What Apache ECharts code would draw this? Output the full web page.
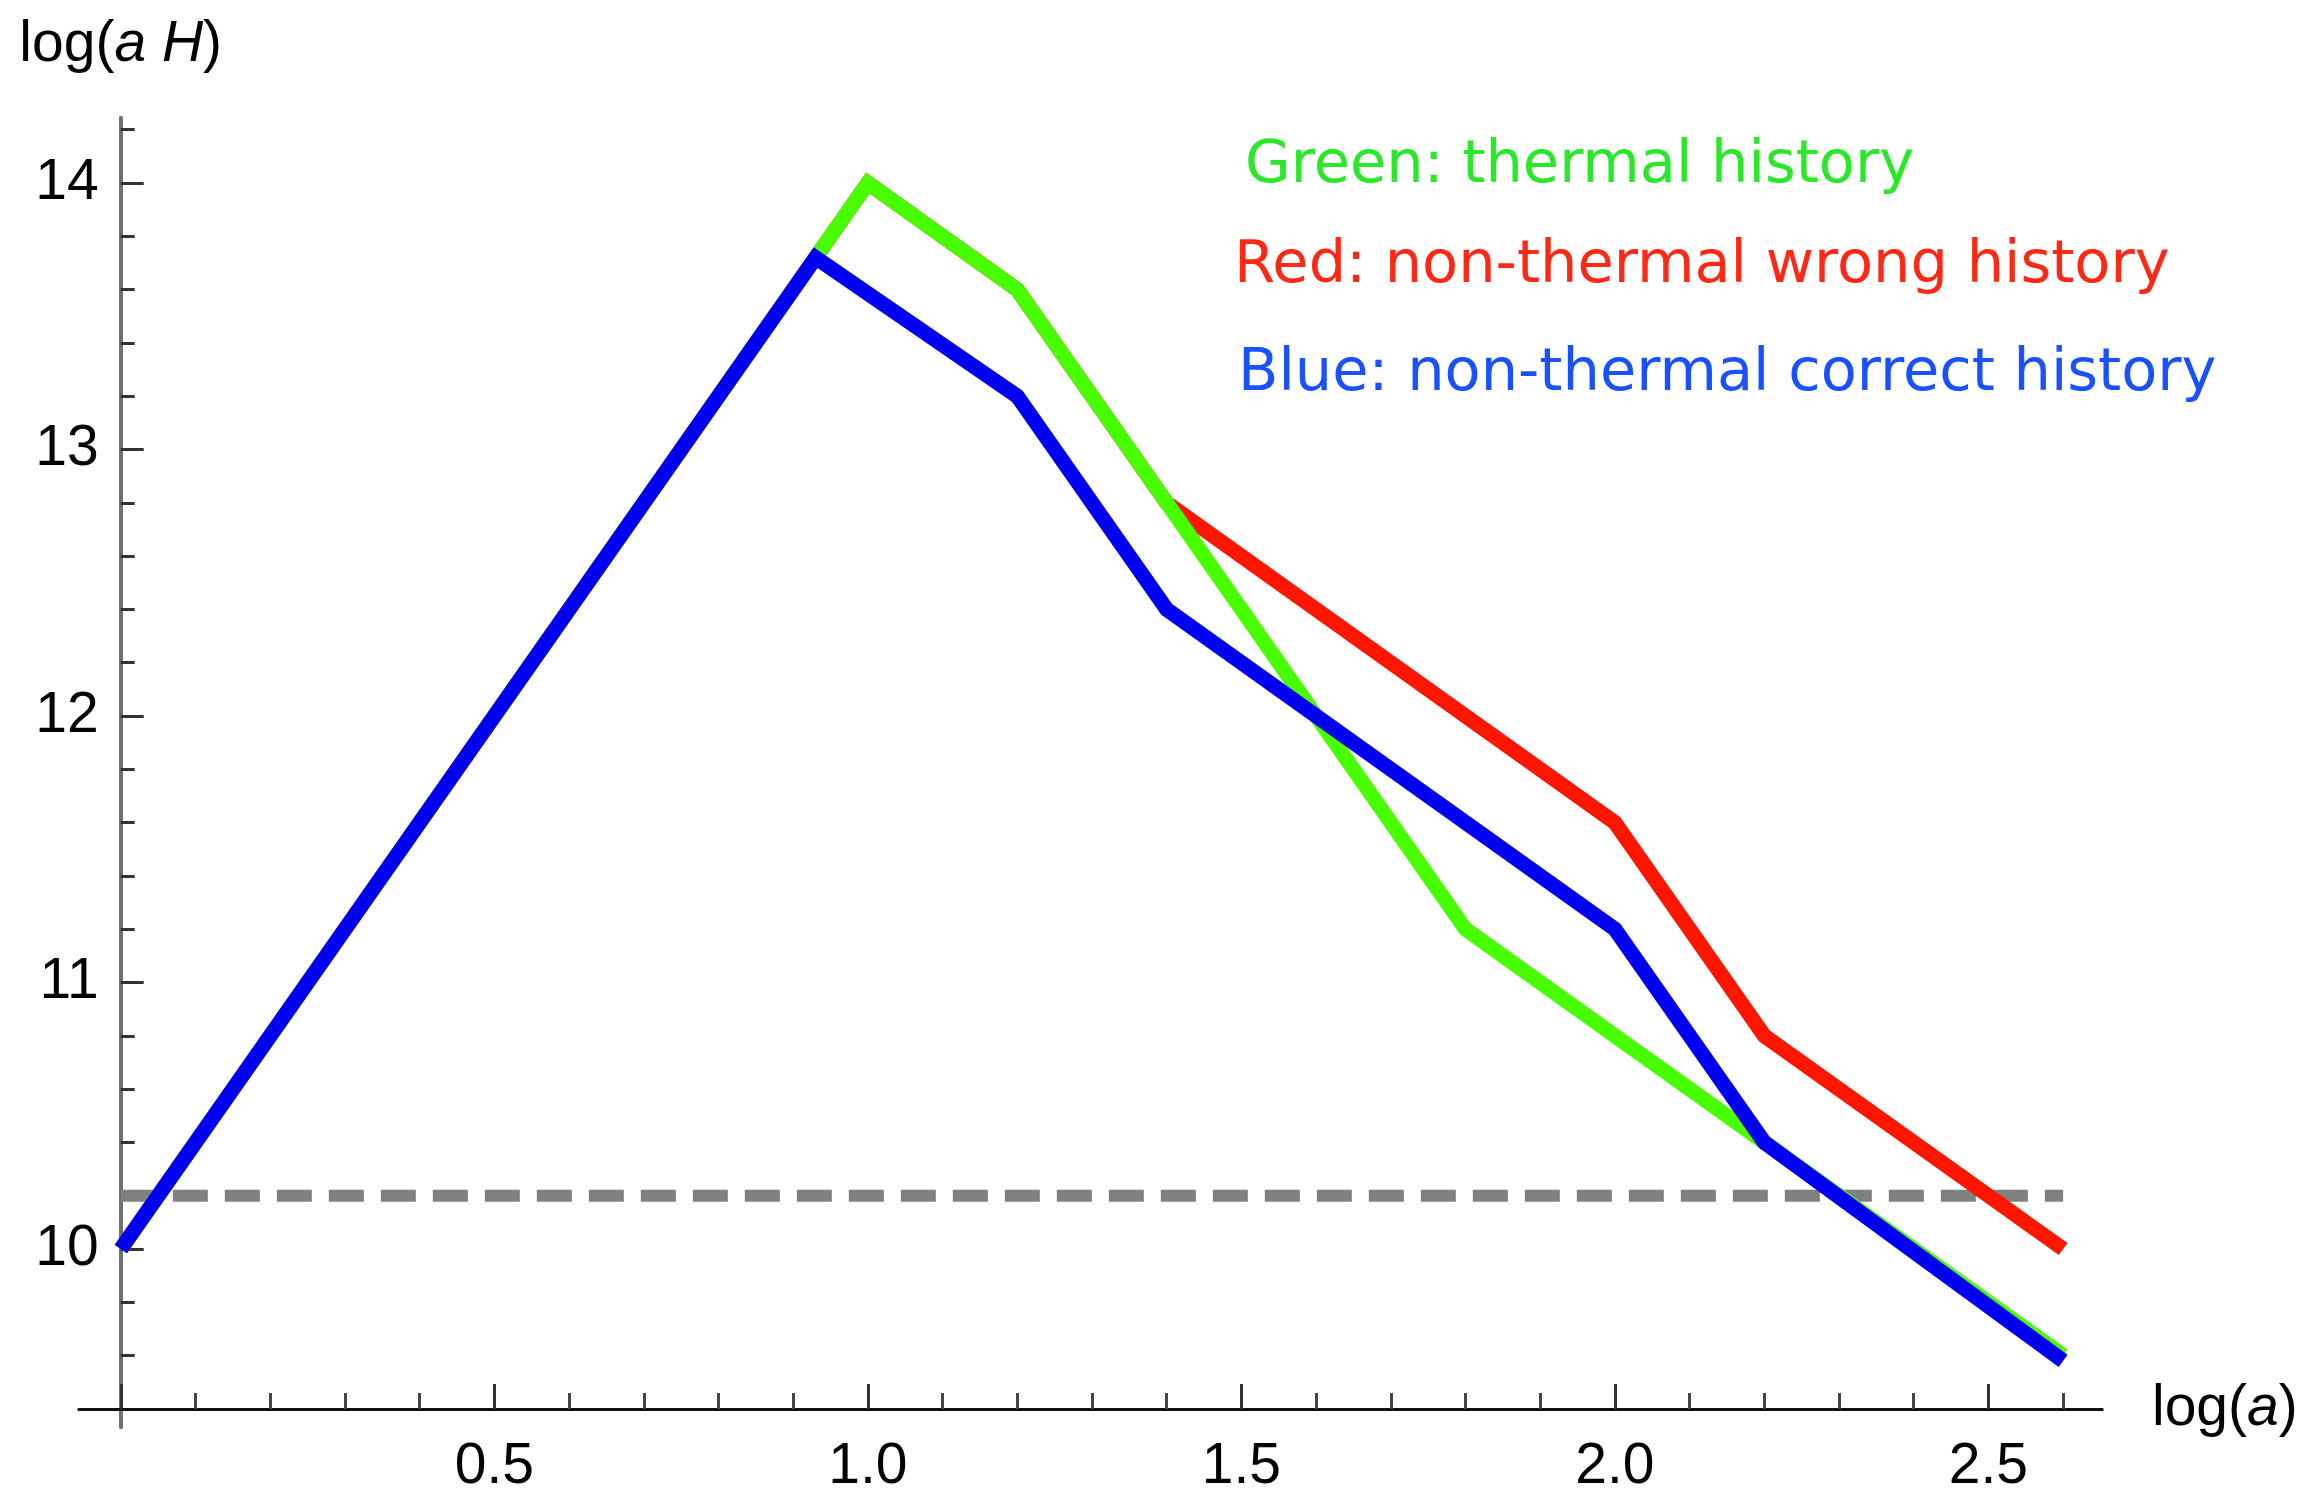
<!DOCTYPE html>
<html>
<head>
<meta charset="utf-8">
<script src="https://cdn.jsdelivr.net/npm/echarts@6/dist/echarts.min.js"></script>
<style>
html,body{margin:0;padding:0;background:#fff;}
#chart{width:2303px;height:1500px;}
</style>
</head>
<body>
<div id="chart"></div>
<script>
// ---- data ----
const greenX = [0, 1.0, 1.2, 1.4, 1.8, 2.0, 2.2, 2.6];
const greenY = [10, 14.0, 13.6, 12.8, 11.2, 10.8, 10.4, 9.6];
const redX = [0, 1.0, 1.2, 1.4, 2.0, 2.2, 2.6];
const redY = [10, 14.0, 13.6, 12.8, 11.6, 10.8, 10.0];
const blueX = [0, 0.93, 1.2, 1.4, 2.0, 2.2, 2.6];
const blueY = [10, 13.72, 13.2, 12.4, 11.2, 10.4, 9.58];
const refX = [0, 2.6];
const refY = [10.2, 10.2];

const xMajorTicks = [0, 0.5, 1.0, 1.5, 2.0, 2.5];
const xLabels = [0.5, 1.0, 1.5, 2.0, 2.5];
const xMinorTicks = [0.1, 0.2, 0.3, 0.4, 0.6, 0.7, 0.8, 0.9, 1.1, 1.2, 1.3, 1.4, 1.6, 1.7, 1.8, 1.9, 2.1, 2.2, 2.3, 2.4, 2.6];
const yMajorTicks = [10, 11, 12, 13, 14];
const yMinorTicks = [9.6, 9.8, 10.2, 10.4, 10.6, 10.8, 11.2, 11.4, 11.6, 11.8, 12.2, 12.4, 12.6, 12.8, 13.2, 13.4, 13.6, 13.8, 14.2];

const notes = [
  {text: 'Green: thermal history', color: 'rgb(40,232,40)'},
  {text: 'Red: non-thermal wrong history', color: 'rgb(255,40,20)'},
  {text: 'Blue: non-thermal correct history', color: 'rgb(25,80,255)'}
];

function pairs(xs, ys) { return xs.map((x, i) => [x, ys[i]]); }

const FONT = '"Liberation Sans", Arial, sans-serif';
const chart = echarts.init(document.getElementById('chart'), null, {renderer: 'canvas'});

const notePos = [[1245, 167], [1234, 267], [1238, 375]];
const Y_OFFSET = -41.7;
const LW = 15;

const option = {
  animation: false,
  backgroundColor: '#ffffff',
  grid: {left: 79, right: 201, top: 118, bottom: 73, containLabel: false, outerBoundsMode: 'none'},
  xAxis: [
    {
      type: 'value', min: -0.056, max: 2.652, position: 'bottom', offset: -18,
      splitLine: {show: false},
      axisLine: {show: true, onZero: false, lineStyle: {color: '#111', width: 3}},
      axisTick: {show: true, inside: true, length: 25, customValues: xMajorTicks, lineStyle: {color: '#333', width: 3}},
      axisLabel: {show: true, customValues: xLabels, margin: 30, color: '#000', fontSize: 57, fontFamily: FONT,
        formatter: v => v.toFixed(1)},
      name: '{n|log(}{i|a}{n|)}', nameLocation: 'end', nameGap: 50,
      nameTextStyle: {color: '#000', fontSize: 57, fontFamily: FONT, verticalAlign: 'middle',
        rich: {n: {fontSize: 57, fontFamily: FONT, color: '#000'}, i: {fontSize: 57, fontFamily: FONT, fontStyle: 'italic', color: '#000'}}}
    },
    {
      type: 'value', min: -0.056, max: 2.652, position: 'bottom', offset: -18,
      splitLine: {show: false},
      axisLine: {show: true, onZero: false, lineStyle: {color: '#111', width: 3}},
      axisTick: {show: true, inside: true, length: 16, customValues: xMinorTicks, lineStyle: {color: '#444', width: 3}},
      axisLabel: {show: false}
    }
  ],
  yAxis: [
    {
      type: 'value', min: 9.332, max: 14.244, position: 'left', offset: Y_OFFSET,
      splitLine: {show: false},
      axisLine: {show: true, onZero: false, lineStyle: {color: '#707070', width: 4}},
      axisTick: {show: true, inside: true, length: 23, customValues: yMajorTicks, lineStyle: {color: '#333', width: 3}},
      axisLabel: {show: true, customValues: yMajorTicks, margin: 22, color: '#000', fontSize: 57, fontFamily: FONT,
        formatter: v => String(Math.round(v))},
      name: '{n|log(}{i|a H}{n|)}', nameLocation: 'end', nameGap: 44,
      nameTextStyle: {color: '#000', fontSize: 57, fontFamily: FONT, align: 'center',
        rich: {n: {fontSize: 57, fontFamily: FONT, color: '#000'}, i: {fontSize: 57, fontFamily: FONT, fontStyle: 'italic', color: '#000'}}}
    },
    {
      type: 'value', min: 9.332, max: 14.244, position: 'left', offset: Y_OFFSET,
      splitLine: {show: false},
      axisLine: {show: true, onZero: false, lineStyle: {color: '#707070', width: 4}},
      axisTick: {show: true, inside: true, length: 14, customValues: yMinorTicks, lineStyle: {color: '#333', width: 3}},
      axisLabel: {show: false}
    }
  ],
  series: [
    {
      type: 'line', data: pairs(refX, refY), showSymbol: false, silent: true, z: 2,
      lineStyle: {color: '#808080', width: 12, type: [35, 17], cap: 'butt'}
    },
    {
      type: 'line', data: pairs(redX, redY), showSymbol: false, z: 3,
      lineStyle: {color: 'rgb(255,22,0)', width: LW, join: 'miter', cap: 'butt'}
    },
    {
      type: 'line', data: pairs(greenX, greenY), showSymbol: false, z: 4,
      lineStyle: {color: 'rgb(72,255,0)', width: LW, join: 'miter', cap: 'butt'}
    },
    {
      type: 'line', data: pairs(blueX, blueY), showSymbol: false, z: 5,
      lineStyle: {color: 'rgb(0,0,240)', width: LW, join: 'miter', cap: 'butt'}
    }
  ],
  graphic: notes.map((n, i) => ({
    type: 'text', x: notePos[i][0], y: notePos[i][1], z: 10,
    style: {text: n.text, fill: n.color, font: '59px "DejaVu Sans", sans-serif', verticalAlign: 'middle', align: 'left'}
  }))
};
chart.setOption(option);
</script>
</body>
</html>
